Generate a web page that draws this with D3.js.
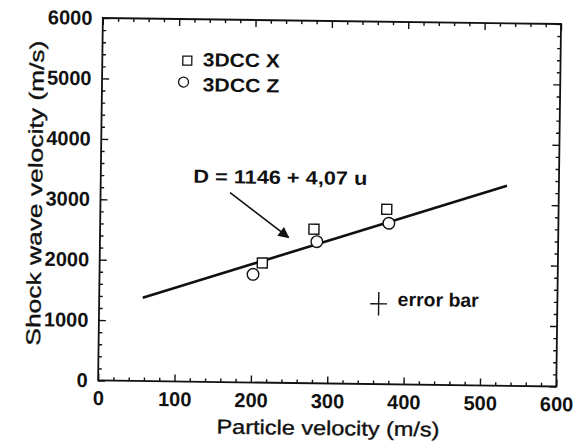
<!DOCTYPE html>
<html>
<head>
<meta charset="utf-8">
<script src="https://cdn.jsdelivr.net/npm/d3@7"></script>
<style>
  body { margin: 0; background: #fff; }
  svg { display: block; }
  text { font-family: "Liberation Sans", Arial, sans-serif; fill: #111; }
  .tick-label { font-size: 20px; font-weight: bold; }
  .axis-title { font-size: 20px; stroke: #111; stroke-width: 0.35px; }
  .annot { font-size: 19px; font-weight: bold; }
</style>
</head>
<body>
<div id="chart"></div>
<script>
// Values.
const seriesNames = ["3DCC X", "3DCC Z"];
const xSeriesU = [213, 280, 375];
const xSeriesD = [1980, 2550, 2895];
const zSeriesU = [201, 284, 378];
const zSeriesD = [1790, 2345, 2665];

// Linear fit D = 1146 + 4,07 u, drawn between these particle velocities.
const fitIntercept = 1146;
const fitSlope = 4.07;
const fitRange = [57, 532];

// Error bar marker (centre and half sizes).
const errCenter = [366, 1330];
const errHalf = [11, 195];

const xTicks = [0, 100, 200, 300, 400, 500, 600];
const yTicks = [0, 1000, 2000, 3000, 4000, 5000, 6000];

const width = 575;
const height = 441;

const svg = d3.select("#chart")
    .append("svg")
    .attr("width", width)
    .attr("height", height);

svg.append("rect")
    .attr("width", width)
    .attr("height", height)
    .attr("fill", "#fff");

// The scan is slightly tilted, so everything sits in a rotated group.
const g = svg.append("g")
    .attr("transform", "rotate(0.75, 330, 200)");

const x = d3.scaleLinear().domain([0, 600]).range([100.5, 558.7]);
const y = d3.scaleLinear().domain([0, 6000]).range([383.5, 21]);

// Minor ticks, every 20 m/s and every 200 m/s, pointing inwards on all sides.
const xMinor = d3.range(0, 601, 20).filter(d => d % 100 !== 0);
const yMinor = d3.range(0, 6001, 200).filter(d => d % 1000 !== 0);

function addAxis(axis, tx, ty, labels) {
    const a = g.append("g")
        .attr("transform", `translate(${tx}, ${ty})`)
        .call(axis);
    a.select(".domain").remove();
    a.selectAll("line").attr("stroke", "#111").attr("stroke-width", 1.4);
    if (labels) {
        a.attr("font-family", null).attr("font-size", null);
        a.selectAll("text")
            .attr("class", "tick-label")
            .attr("fill", "#111");
    } else {
        a.selectAll("text").remove();
    }
    return a;
}

const plotBottom = y(0), plotTop = y(6000), plotLeft = x(0), plotRight = x(600);

addAxis(d3.axisBottom(x).tickValues(xMinor).tickSize(-3.5), 0, plotBottom, false);
addAxis(d3.axisBottom(x).tickValues(xTicks).tickSize(-7).tickPadding(10.5).tickFormat(d3.format("d")), 0, plotBottom, true);
addAxis(d3.axisTop(x).tickValues(xMinor).tickSize(-3.5), 0, plotTop, false);
addAxis(d3.axisTop(x).tickValues(xTicks).tickSize(-7), 0, plotTop, false);
addAxis(d3.axisLeft(y).tickValues(yMinor).tickSize(-3.5), plotLeft, 0, false);
addAxis(d3.axisLeft(y).tickValues(yTicks).tickSize(-7).tickPadding(10.5).tickFormat(d3.format("d")), plotLeft, 0, true);
addAxis(d3.axisRight(y).tickValues(yMinor).tickSize(-3.5), plotRight, 0, false);
addAxis(d3.axisRight(y).tickValues(yTicks).tickSize(-7), plotRight, 0, false);

// Plot frame.
g.append("rect")
    .attr("x", plotLeft)
    .attr("y", plotTop)
    .attr("width", plotRight - plotLeft)
    .attr("height", plotBottom - plotTop)
    .attr("fill", "none")
    .attr("stroke", "#111")
    .attr("stroke-width", 1.8);

// Fit line.
g.append("line")
    .attr("x1", x(fitRange[0]))
    .attr("y1", y(fitIntercept + fitSlope * fitRange[0]))
    .attr("x2", x(fitRange[1]))
    .attr("y2", y(fitIntercept + fitSlope * fitRange[1]))
    .attr("stroke", "#111")
    .attr("stroke-width", 2.6);

// Data markers: open squares for X, open circles for Z.
const xData = xSeriesU.map((u, i) => ({ u: u, d: xSeriesD[i] }));
const zData = zSeriesU.map((u, i) => ({ u: u, d: zSeriesD[i] }));

g.selectAll("rect.sq")
    .data(xData)
    .join("rect")
    .attr("class", "sq")
    .attr("x", d => x(d.u) - 5)
    .attr("y", d => y(d.d) - 5)
    .attr("width", 10)
    .attr("height", 10)
    .attr("fill", "#fff")
    .attr("stroke", "#111")
    .attr("stroke-width", 1.4);

g.selectAll("circle.ci")
    .data(zData)
    .join("circle")
    .attr("class", "ci")
    .attr("cx", d => x(d.u))
    .attr("cy", d => y(d.d))
    .attr("r", 5.8)
    .attr("fill", "#fff")
    .attr("stroke", "#111")
    .attr("stroke-width", 1.4);

// Legend.
g.append("rect")
    .attr("x", 181).attr("y", 58)
    .attr("width", 9).attr("height", 9)
    .attr("fill", "none").attr("stroke", "#111").attr("stroke-width", 1.3);
g.append("circle")
    .attr("cx", 182).attr("cy", 84).attr("r", 5)
    .attr("fill", "none").attr("stroke", "#111").attr("stroke-width", 1.3);
g.append("text")
    .attr("class", "annot")
    .attr("x", 201).attr("y", 68)
    .attr("textLength", 77).attr("lengthAdjust", "spacingAndGlyphs")
    .text(seriesNames[0]);
g.append("text")
    .attr("class", "annot")
    .attr("x", 201).attr("y", 93)
    .attr("textLength", 77).attr("lengthAdjust", "spacingAndGlyphs")
    .text(seriesNames[1]);

// Equation and arrow.
g.append("text")
    .attr("class", "annot")
    .attr("x", 193).attr("y", 184.5)
    .attr("textLength", 174).attr("lengthAdjust", "spacingAndGlyphs")
    .text("D = 1146 + 4,07 u");

svg.append("defs").append("marker")
    .attr("id", "arrow")
    .attr("viewBox", "0 0 10 10")
    .attr("refX", 9).attr("refY", 5)
    .attr("markerWidth", 15).attr("markerHeight", 11)
    .attr("markerUnits", "userSpaceOnUse")
    .attr("orient", "auto")
    .append("path")
    .attr("d", "M0,0 L10,5 L0,10 Z")
    .attr("fill", "#111");

g.append("line")
    .attr("x1", 230).attr("y1", 194)
    .attr("x2", 289).attr("y2", 238)
    .attr("stroke", "#111")
    .attr("stroke-width", 1.6)
    .attr("marker-end", "url(#arrow)");

// Error bar marker and label.
g.append("line")
    .attr("x1", x(errCenter[0] - errHalf[0])).attr("x2", x(errCenter[0] + errHalf[0]))
    .attr("y1", y(errCenter[1])).attr("y2", y(errCenter[1]))
    .attr("stroke", "#111").attr("stroke-width", 1.4);
g.append("line")
    .attr("x1", x(errCenter[0])).attr("x2", x(errCenter[0]))
    .attr("y1", y(errCenter[1] - errHalf[1])).attr("y2", y(errCenter[1] + errHalf[1]))
    .attr("stroke", "#111").attr("stroke-width", 1.4);
g.append("text")
    .attr("class", "annot")
    .attr("x", 399).attr("y", 305)
    .attr("textLength", 81).attr("lengthAdjust", "spacingAndGlyphs")
    .text("error bar");

// Axis titles.
g.append("text")
    .attr("class", "axis-title")
    .attr("x", 331).attr("y", 435)
    .attr("text-anchor", "middle")
    .attr("textLength", 223).attr("lengthAdjust", "spacingAndGlyphs")
    .text("Particle velocity (m/s)");

g.append("text")
    .attr("class", "axis-title")
    .attr("transform", "translate(42, 197) rotate(-90)")
    .attr("text-anchor", "middle")
    .attr("textLength", 305).attr("lengthAdjust", "spacingAndGlyphs")
    .text("Shock wave velocity (m/s)");
</script>
</body>
</html>
